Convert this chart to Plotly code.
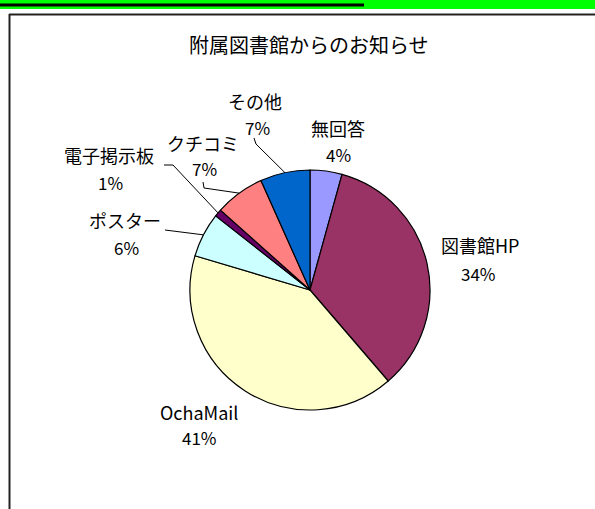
import math
import plotly.graph_objects as go

# ---- data ----
labels = ["無回答", "図書館HP", "OchaMail", "ポスター", "電子掲示板", "クチコミ", "その他"]
values = [4.3, 34.4, 40.9, 6.0, 1.0, 6.7, 6.7]
colors = ["#9999FF", "#993366", "#FFFFCC", "#CCFFFF", "#660066", "#FF8080", "#0066CC"]
title_text = "附属図書館からのお知らせ"

# ---- layout geometry (pixels) ----
W, H = 595, 509
CX, CY, R = 310, 290, 120
FONT = "Noto Sans CJK JP, Noto Sans, sans-serif"

# label centre positions: (name line, percent line)
label_pos = {
    "無回答": ((338, 128), (338, 154)),
    "図書館HP": ((480, 245), (478, 273)),
    "OchaMail": ((199, 412), (199, 437)),
    "ポスター": ((125, 220), (126, 247)),
    "電子掲示板": ((109, 155), (110, 182)),
    "クチコミ": ((203, 143), (204, 169)),
    "その他": ((255, 101), (257, 127)),
}
# leader line start points (label side)
leader_start = {
    "その他": [(254, 138), (256, 144)],
    "クチコミ": [(203, 182), (204, 188)],
    "電子掲示板": [(164, 165), (173, 165)],
    "ポスター": [(165, 230)],
}


def px(x):
    return x / W


def py(y):
    return 1 - y / H


fig = go.Figure()
fig.add_trace(go.Pie(
    labels=labels, values=values, sort=False, direction="clockwise", rotation=0,
    marker=dict(colors=colors, line=dict(color="black", width=1.2)),
    textinfo="none", hoverinfo="label+percent", showlegend=False,
    domain=dict(x=[px(CX - R), px(CX + R)], y=[py(CY + R), py(CY - R)]),
))

total = sum(values)
annotations = []
shapes = []

# green banner & box
shapes.append(dict(type="rect", xref="paper", yref="paper", x0=0, x1=1, y0=py(9), y1=1,
                   fillcolor="#00FF00", line=dict(width=0), layer="below"))
shapes.append(dict(type="line", xref="paper", yref="paper", x0=0, x1=px(364), y0=py(5), y1=py(5),
                   line=dict(color="black", width=3)))
shapes.append(dict(type="line", xref="paper", yref="paper", x0=px(9), x1=1.01, y0=py(14.5), y1=py(14.5),
                   line=dict(color="#222222", width=2)))
shapes.append(dict(type="line", xref="paper", yref="paper", x0=px(9.5), x1=px(9.5), y0=py(14), y1=-0.01,
                   line=dict(color="#222222", width=2)))

annotations.append(dict(text=title_text, x=px(309), y=py(44), xref="paper", yref="paper",
                        showarrow=False, xanchor="center", yanchor="middle",
                        font=dict(family=FONT, size=20, color="black")))

cum = 0.0
for lab, v in zip(labels, values):
    mid = (cum + v / 2) / total * 2 * math.pi
    cum += v
    pct = round(v / total * 100)
    (nx, ny), (qx, qy) = label_pos[lab]
    annotations.append(dict(text=lab, x=px(nx), y=py(ny), xref="paper", yref="paper",
                            showarrow=False, xanchor="center", yanchor="middle",
                            font=dict(family=FONT, size=18, color="black")))
    annotations.append(dict(text=f"{pct}%", x=px(qx), y=py(qy), xref="paper", yref="paper",
                            showarrow=False, xanchor="center", yanchor="middle",
                            font=dict(family=FONT, size=17, color="black")))
    if lab in leader_start:
        rim = (CX + R * math.sin(mid), CY - R * math.cos(mid))
        pts = leader_start[lab] + [rim]
        path = "M " + " L ".join(f"{px(a):.5f},{py(b):.5f}" for a, b in pts)
        shapes.append(dict(type="path", xref="paper", yref="paper", path=path,
                           line=dict(color="black", width=1)))

fig.update_layout(
    width=W, height=H, margin=dict(l=0, r=0, t=0, b=0),
    paper_bgcolor="white", plot_bgcolor="white",
    annotations=annotations, shapes=shapes,
)
fig.write_html("out.html", config={"displayModeBar": False},
               post_script="document.body.style.margin='0';")
